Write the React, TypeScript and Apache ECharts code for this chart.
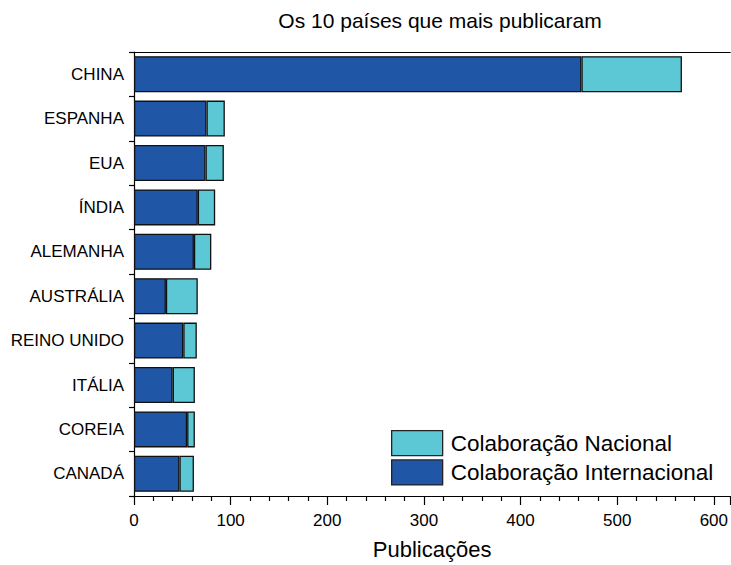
import React, { useEffect, useRef } from "react";
import * as echarts from "echarts";

const countries = ["CHINA", "ESPANHA", "EUA", "ÍNDIA", "ALEMANHA", "AUSTRÁLIA", "REINO UNIDO", "ITÁLIA", "COREIA", "CANADÁ"];
const internacional = [463, 75, 74, 66, 62, 33, 51, 40, 55, 47];
const nacional = [104, 19, 19, 18, 18, 33, 14, 23, 8, 15];
const xTicks = [0, 100, 200, 300, 400, 500, 600];

const FONT = "Liberation Sans, Arial, sans-serif";
const DARK = "#1F56A6";
const LIGHT = "#5CC8D6";

export default function App() {
  const ref = useRef<HTMLDivElement>(null);
  useEffect(() => {
    if (!ref.current) return;
    const chart = echarts.init(ref.current, undefined, { renderer: "svg" });
    chart.setOption({
      animation: false,
      backgroundColor: "#fff",
      title: {
        text: "Os 10 países que mais publicaram",
        left: 440,
        top: 10,
        padding: 0,
        textAlign: "center",
        textStyle: { fontFamily: FONT, fontSize: 21, fontWeight: "normal", color: "#000" },
      },
      legend: {
        orient: "vertical",
        left: 391,
        top: 430,
        padding: 0,
        icon: "rect",
        itemWidth: 51,
        itemHeight: 25,
        itemGap: 3,
        data: ["Colaboração Nacional", "Colaboração Internacional"],
        textStyle: { fontFamily: FONT, fontSize: 22.5, color: "#000", padding: [0, 0, 0, 3] },
        itemStyle: { borderColor: "#222", borderWidth: 1.3 },
      },
      grid: { left: 134, right: 0, top: 52, bottom: 66, containLabel: false },
      xAxis: [
        {
          type: "value",
          min: 0,
          max: 617,
          interval: 100,
          name: "Publicações",
          nameLocation: "middle",
          nameGap: 42,
          nameTextStyle: { fontFamily: FONT, fontSize: 22, color: "#000" },
          axisLine: { show: true, lineStyle: { color: "#000", width: 1.2 } },
          axisTick: { show: true, length: 9, lineStyle: { color: "#000", width: 1.2 } },
          minorTick: { show: true, splitNumber: 5, length: 5, lineStyle: { color: "#000", width: 1.2 } },
          axisLabel: {
            fontFamily: FONT,
            fontSize: 17,
            color: "#000",
            margin: 16,
            showMaxLabel: false,
            formatter: (v: number) => (xTicks.includes(v) ? String(v) : ""),
          },
          splitLine: { show: false },
        },
        {
          type: "value",
          position: "top",
          min: 0,
          max: 617,
          axisLine: { show: true, onZero: false, lineStyle: { color: "#000", width: 1.2 } },
          axisTick: { show: false },
          axisLabel: { show: false },
          splitLine: { show: false },
        },
      ],
      yAxis: {
        type: "category",
        inverse: true,
        data: countries,
        axisLine: { show: true, lineStyle: { color: "#000", width: 1.2 } },
        axisTick: { show: true, length: 5, lineStyle: { color: "#000", width: 1.2 } },
        axisLabel: { fontFamily: FONT, fontSize: 17, color: "#000", margin: 10 },
      },
      series: [
        {
          name: "Colaboração Internacional",
          type: "bar",
          stack: "total",
          barCategoryGap: "19%",
          data: internacional,
          itemStyle: { color: DARK, borderColor: "#111", borderWidth: 1.3 },
        },
        {
          name: "Colaboração Nacional",
          type: "bar",
          stack: "total",
          barCategoryGap: "19%",
          data: nacional,
          itemStyle: { color: LIGHT, borderColor: "#111", borderWidth: 1.3 },
        },
      ],
    });
    return () => chart.dispose();
  }, []);
  return (
    <div
      ref={ref}
      style={{ position: "absolute", left: 0, top: 0, width: 731, height: 565 }}
    />
  );
}
